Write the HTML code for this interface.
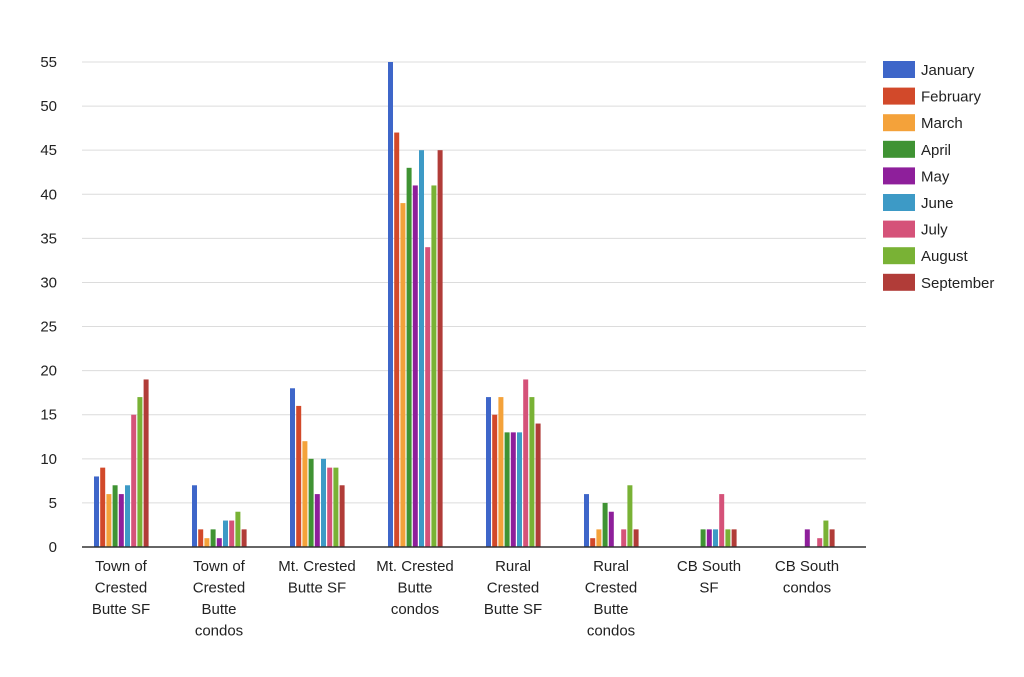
<!DOCTYPE html>
<html><head><meta charset="utf-8"><style>
body{margin:0;background:#fff;font-family:"Liberation Sans",sans-serif}
</style></head><body>
<svg id="c" width="1024" height="677" style="display:block"></svg>
<script>
const categories=[["Town of","Crested","Butte SF"],["Town of","Crested","Butte","condos"],["Mt. Crested","Butte SF"],["Mt. Crested","Butte","condos"],["Rural","Crested","Butte SF"],["Rural","Crested","Butte","condos"],["CB South","SF"],["CB South","condos"]];
const months=["January","February","March","April","May","June","July","August","September"];
const colors=["#3e66c9","#d2492a","#f4a23a","#3f9333","#8e1f9b","#3d9ac6","#d55279","#79b235","#b13c38"];
const january=[8,7,18,55,17,6,0,0];
const february=[9,2,16,47,15,1,0,0];
const march=[6,1,12,39,17,2,0,0];
const april=[7,2,10,43,13,5,2,0];
const may=[6,1,6,41,13,4,2,2];
const june=[7,3,10,45,13,0,2,0];
const july=[15,3,9,34,19,2,6,1];
const august=[17,4,9,41,17,7,2,3];
const september=[19,2,7,45,14,2,2,2];
const yTicks=[0,5,10,15,20,25,30,35,40,45,50,55];
const series=[january,february,march,april,may,june,july,august,september];
const NS="http://www.w3.org/2000/svg",svg=document.getElementById('c');
const x0=82,x1=866,y0=547,yTop=62,yMax=55;
const y=v=>y0-(v/yMax)*(y0-yTop);
const gw=(x1-x0)/categories.length;
function mk(t,a,txt){const e=document.createElementNS(NS,t);for(const k in a)e.setAttribute(k,a[k]);if(txt!==undefined)e.textContent=txt;svg.appendChild(e);return e;}
yTicks.forEach(t=>{
 const g=mk('line',{x1:x0,x2:x1,y1:y(t),y2:y(t),stroke:'#dcdcdc','stroke-width':1});
 
 
 const l=mk('text',{x:57,y:y(t)+5,'text-anchor':'end','font-size':15,fill:'#222'},t);
 
 
});
series.forEach((s,si)=>{s.forEach((v,ci)=>{
 if(v<=0)return;
 const r=mk('rect',{x:x0+ci*gw+12+si*6.2,y:y(v),width:5,height:y0-y(v),fill:colors[si]});
 
 
});});
const ax=mk('line',{x1:x0,x2:x1,y1:y0,y2:y0,stroke:'#333','stroke-width':1.5});


categories.forEach((c,ci)=>{c.forEach((ln,li)=>{
 const t=mk('text',{x:x0+ci*gw+gw/2-10,y:571+li*21.5,'text-anchor':'middle','font-size':15,fill:'#222'},ln);
 
 
});});
months.forEach((m,i)=>{
 const yy=61+i*26.6;
 const r=mk('rect',{x:883,y:yy,width:32,height:17,fill:colors[i]});
 
 
 const t=mk('text',{x:921,y:yy+14,'font-size':15,fill:'#222'},m);
 
 
});
</script>
</body></html>
